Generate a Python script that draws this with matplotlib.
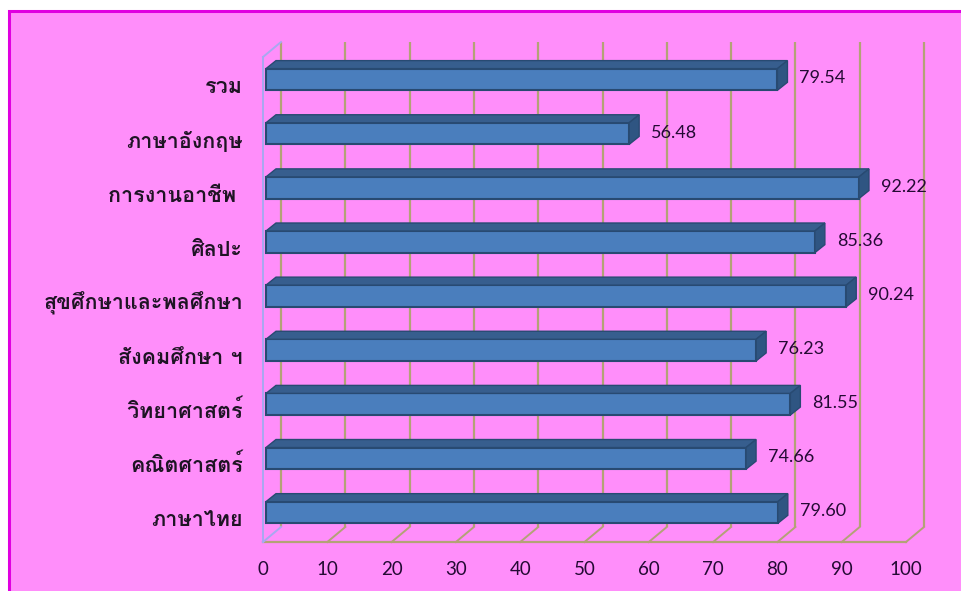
import matplotlib
matplotlib.use("Agg")
import matplotlib.pyplot as plt
from matplotlib import font_manager, ft2font
from matplotlib.patches import Polygon, Rectangle
from matplotlib.transforms import ScaledTranslation, IdentityTransform

subjects = ["ภาษาไทย", "คณิตศาสตร์", "วิทยาศาสตร์", "สังคมศึกษา ฯ",
            "สุขศึกษาและพลศึกษา", "ศิลปะ", "การงานอาชีพ ", "ภาษาอังกฤษ", "รวม"]
scores = [79.60, 74.66, 81.55, 76.23, 90.24, 85.36, 92.22, 56.48, 79.54]
x_ticks = [0, 10, 20, 30, 40, 50, 60, 70, 80, 90, 100]

DPI = 100
PINK = "#FF8EFA"
BORDER = "#E000E0"
GRID = "#B3A276"
WALL = "#A8A8F0"
TEXT = "#240A34"
LABEL = "#1E1424"
BAR_FRONT = "#4A7EBD"
BAR_TOP = "#375E8E"
BAR_END = "#2F5582"
BAR_EDGE = "#284A72"


def thai_family():
    # look for installed fonts that actually have Thai glyphs
    found = {}
    for f in font_manager.fontManager.ttflist:
        try:
            cmap = ft2font.FT2Font(f.fname).get_charmap()
        except Exception:
            continue
        if 0x0E01 in cmap and 0x0E29 in cmap:
            w = f.weight if isinstance(f.weight, int) else 400
            found.setdefault(f.name, set()).add(w)
    prefs = ["Tahoma", "Loma", "Garuda", "Noto Sans Thai Looped", "Waree", "Tlwg Typo",
             "Noto Sans Thai", "Noto Sans Thai UI"]
    for pref in prefs:
        if pref in found:
            return pref
    with_bold = [n for n, ws in found.items() if max(ws) >= 600]
    if with_bold:
        return with_bold[0]
    return next(iter(found), "DejaVu Sans")


THAI = thai_family()

fig = plt.figure(figsize=(962 / DPI, 591 / DPI), dpi=DPI, facecolor="white")

# pink frame with magenta border
frame = Rectangle((9 / 962, -0.05), 1.1, (591 - 11) / 591 + 0.05, transform=fig.transFigure,
                  facecolor=PINK, edgecolor=BORDER, linewidth=2.2, zorder=-5)
fig.patches.append(frame)

ax = fig.add_axes([263 / 962, (591 - 542) / 591, 643 / 962, 485 / 591])
ax.set_facecolor("none")
for s in ax.spines.values():
    s.set_visible(False)
ax.set_xlim(0, 100)
ax.set_ylim(-0.49, 8.47)


def shift(dx, dy):
    return ScaledTranslation(dx / DPI, dy / DPI, fig.dpi_scale_trans)


DEPTH = (18, 15)
y0, y1 = ax.get_ylim()

# back wall gridlines
ax.vlines(x_ticks, y0, y1, colors=GRID, linewidth=1.6, zorder=1, clip_on=False,
          transform=ax.transData + shift(*DEPTH))
# floor: front edge and depth lines
ax.plot([0, 100], [y0, y0], color=GRID, linewidth=1.6, zorder=1, clip_on=False)
for t in x_ticks:
    px, py = ax.transData.transform((t, y0))
    col = WALL if t == 0 else GRID
    ax.plot([px, px + DEPTH[0]], [py, py + DEPTH[1]], color=col, linewidth=1.4,
            transform=IdentityTransform(), clip_on=False, zorder=1)
# left wall front edge
ax.plot([0, 0], [y0, y1], color=WALL, linewidth=1.4, zorder=1, clip_on=False)
px, py = ax.transData.transform((0, y1))
ax.plot([px, px + DEPTH[0]], [py, py + DEPTH[1]], color=WALL, linewidth=1.4,
        transform=IdentityTransform(), clip_on=False, zorder=1)

# bars: front faces through barh, top and end faces from the same corners
BAR_H = 0.40
FRONT = (3, 3)
BD = (10, 8)
rows = list(range(len(subjects)))
ax.barh(rows, scores, height=BAR_H, color=BAR_FRONT, edgecolor=BAR_EDGE, linewidth=1.5,
        zorder=3, transform=ax.transData + shift(*FRONT))
for i, v in zip(rows, scores):
    xl, yb = ax.transData.transform((0, i - BAR_H / 2))
    xr, yt = ax.transData.transform((v, i + BAR_H / 2))
    xl += FRONT[0]; xr += FRONT[0]; yb += FRONT[1]; yt += FRONT[1]
    top = Polygon([(xl, yt), (xr, yt), (xr + BD[0], yt + BD[1]), (xl + BD[0], yt + BD[1])],
                  closed=True, facecolor=BAR_TOP, edgecolor=BAR_EDGE, linewidth=1.0,
                  transform=IdentityTransform(), zorder=3)
    end = Polygon([(xr, yb), (xr + BD[0], yb + BD[1]), (xr + BD[0], yt + BD[1]), (xr, yt)],
                  closed=True, facecolor=BAR_END, edgecolor=BAR_EDGE, linewidth=1.0,
                  transform=IdentityTransform(), zorder=3)
    ax.add_patch(top)
    ax.add_patch(end)
    ax.text(v, i, f"{v:.2f}", transform=ax.transData + shift(FRONT[0] + 22, 4),
            ha="left", va="center", fontsize=13, color=TEXT,
            family=["Lato", "DejaVu Sans"], zorder=4)
    ax.text(0, i, subjects[i], transform=ax.transData + shift(-20, -11),
            ha="right", va="baseline", fontsize=15.5, fontweight="bold", color=LABEL,
            family=[THAI, "DejaVu Sans"], zorder=4)

ax.set_yticks([])
ax.set_xticks(x_ticks)
ax.set_xticklabels([str(t) for t in x_ticks], fontsize=13.5, color=TEXT, family=["Lato", "DejaVu Sans"])
ax.tick_params(axis="x", length=0, pad=14)

fig.savefig("out.png", dpi=DPI, facecolor="white")
